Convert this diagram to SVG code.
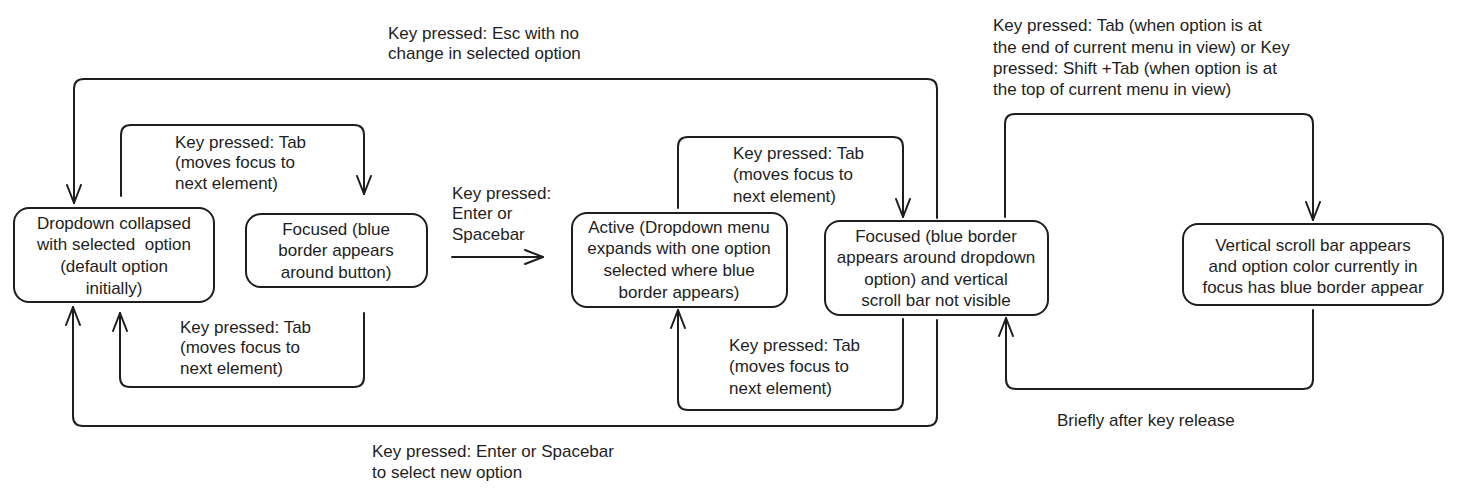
<svg xmlns="http://www.w3.org/2000/svg" width="1464" height="489" viewBox="0 0 1464 489">
<style>
  .node rect { fill: #ffffff; stroke: #1e1e1e; stroke-width: 2; }
  .node text { font-family: "Liberation Sans", "DejaVu Sans", sans-serif; font-size: 17px; fill: #1e1e1e; text-anchor: middle; dominant-baseline: central; }
  .lbl { font-family: "Liberation Sans", "DejaVu Sans", sans-serif; font-size: 17px; fill: #1e1e1e; dominant-baseline: central; }
  .edge { fill: none; stroke: #1e1e1e; stroke-width: 2; stroke-linecap: round; stroke-linejoin: round; marker-end: url(#arr); }
</style>
<defs>
  <marker id="arr" viewBox="0 0 20 16" refX="19" refY="8" markerWidth="20" markerHeight="16" markerUnits="userSpaceOnUse" orient="auto">
    <path d="M1,1 L19,8 L1,15" fill="none" stroke="#1e1e1e" stroke-width="2" stroke-linecap="round" stroke-linejoin="round"/>
  </marker>
</defs>
<rect width="1464" height="489" fill="#ffffff"/>
<g id="connectors">
  <path class="edge" d="M937,218 V89 Q937,79 927,79 H84 Q74,79 74,89 V203"/>
  <path class="edge" d="M937,320 V416 Q937,426 927,426 H83 Q73,426 73,416 V307"/>
  <path class="edge" d="M121,196 V135 Q121,125 131,125 H354 Q364,125 364,135 V194"/>
  <path class="edge" d="M364,313 V377 Q364,387 354,387 H130 Q120,387 120,377 V313"/>
  <path class="edge" d="M452,257 H543"/>
  <path class="edge" d="M678,208 V147 Q678,137 688,137 H893 Q903,137 903,147 V217"/>
  <path class="edge" d="M903,319 V400 Q903,410 893,410 H688 Q678,410 678,400 V310"/>
  <path class="edge" d="M1005,217 V124 Q1005,114 1015,114 H1303 Q1313,114 1313,124 V220"/>
  <path class="edge" d="M1313,310 V379 Q1313,389 1303,389 H1016 Q1006,389 1006,379 V318"/>
</g>
<g id="edge-labels">
  <text class="lbl" x="388" y="33">Key pressed: Esc with no</text>
  <text class="lbl" x="388" y="53">change in selected option</text>
  <text class="lbl" x="175" y="142">Key pressed: Tab</text>
  <text class="lbl" x="175" y="162">(moves focus to</text>
  <text class="lbl" x="175" y="183">next element)</text>
  <text class="lbl" x="452" y="193">Key pressed:</text>
  <text class="lbl" x="452" y="213">Enter or</text>
  <text class="lbl" x="452" y="234">Spacebar</text>
  <text class="lbl" x="180" y="327">Key pressed: Tab</text>
  <text class="lbl" x="180" y="347">(moves focus to</text>
  <text class="lbl" x="180" y="368">next element)</text>
  <text class="lbl" x="372" y="451">Key pressed: Enter or Spacebar</text>
  <text class="lbl" x="372" y="472">to select new option</text>
  <text class="lbl" x="733" y="153">Key pressed: Tab</text>
  <text class="lbl" x="733" y="174">(moves focus to</text>
  <text class="lbl" x="733" y="196">next element)</text>
  <text class="lbl" x="729" y="345">Key pressed: Tab</text>
  <text class="lbl" x="729" y="366">(moves focus to</text>
  <text class="lbl" x="729" y="388">next element)</text>
  <text class="lbl" x="993" y="25">Key pressed: Tab (when option is at</text>
  <text class="lbl" x="993" y="47">the end of current menu in view) or Key</text>
  <text class="lbl" x="993" y="68">pressed: Shift +Tab (when option is at</text>
  <text class="lbl" x="993" y="89">the top of current menu in view)</text>
  <text class="lbl" x="1057" y="420">Briefly after key release</text>
</g>
<g id="node-collapsed" class="node">
  <rect x="14" y="208" width="200" height="94" rx="15"/>
  <text x="114" y="223">Dropdown collapsed</text>
  <text x="114" y="244" xml:space="preserve">with selected  option</text>
  <text x="114" y="266">(default option</text>
  <text x="114" y="288">initially)</text>
</g>
<g id="node-focused-button" class="node">
  <rect x="246" y="214" width="181" height="73" rx="15"/>
  <text x="336" y="229">Focused (blue</text>
  <text x="336" y="250">border appears</text>
  <text x="336" y="272">around button)</text>
</g>
<g id="node-active" class="node">
  <rect x="572" y="213" width="215" height="94" rx="15"/>
  <text x="679" y="227">Active (Dropdown menu</text>
  <text x="679" y="248">expands with one option</text>
  <text x="679" y="270">selected where blue</text>
  <text x="679" y="292">border appears)</text>
</g>
<g id="node-focused-option" class="node">
  <rect x="825" y="221" width="223" height="94" rx="15"/>
  <text x="936" y="236">Focused (blue border</text>
  <text x="936" y="257">appears around dropdown</text>
  <text x="936" y="279">option) and vertical</text>
  <text x="936" y="300">scroll bar not visible</text>
</g>
<g id="node-scrollbar" class="node">
  <rect x="1183" y="224" width="260" height="81" rx="15"/>
  <text x="1313" y="245">Vertical scroll bar appears</text>
  <text x="1313" y="266">and option color currently in</text>
  <text x="1313" y="287">focus has blue border appear</text>
</g>
</svg>
